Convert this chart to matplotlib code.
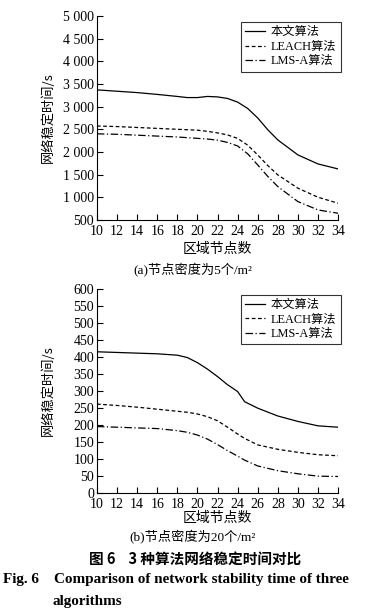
import matplotlib
matplotlib.use("Agg")
import matplotlib.pyplot as plt

plt.rcParams['font.family'] = ['Liberation Serif', 'Noto Sans CJK SC']

names = ["本文算法", "LEACH算法", "LMS-A算法"]
styles = ['-', (0, (3, 2)), (0, (6, 2, 1, 2))]

# (a) node density 5 per m2
xa = [10, 12, 14, 16, 18, 19, 20, 21, 22, 23, 24, 25, 26, 27, 28, 30, 32, 34]
solid_a = [3370, 3340, 3310, 3270, 3225, 3200, 3200, 3225, 3215, 3180, 3100, 2960, 2750, 2490, 2265, 1934, 1735, 1625]
leach_a = [2573, 2560, 2540, 2520, 2500, 2490, 2480, 2455, 2420, 2375, 2300, 2150, 1934, 1700, 1493, 1200, 1000, 868]
lmsa_a = [2400, 2390, 2370, 2350, 2330, 2315, 2300, 2285, 2260, 2210, 2132, 1960, 1713, 1460, 1235, 904, 720, 647]

# (b) node density 20 per m2
xb = [10, 12, 14, 16, 18, 19, 20, 21, 22, 23, 24, 24.7, 26, 28, 30, 32, 34]
solid_b = [415, 413, 411, 409, 405, 398, 383, 364, 342, 318, 298, 268, 249, 226, 210, 197, 193]
leach_b = [261, 257, 252, 246, 240, 237, 232, 224, 212, 193, 173, 160, 141, 128, 119, 112, 109]
lmsa_b = [195, 193, 191, 189, 183, 178, 170, 158, 142, 124, 108, 96, 79, 65, 56, 49, 48]

xticks = list(range(10, 35, 2))

fig = plt.figure(figsize=(3.86, 6.16), dpi=100)
cjk = ['Noto Sans CJK SC', 'Liberation Serif']
mixed = ['Liberation Serif', 'Noto Sans CJK SC']


def panel(ax, x, series, ylim, yticks, ylabels, sub, sub_y, xlab_y):
    for ys, ls, nm in zip(series, styles, names):
        ax.plot(x, ys, color='black', lw=0.9, linestyle=ls, label=nm)
    ax.set_xlim(10, 34)
    ax.set_ylim(*ylim)
    ax.set_xticks(xticks)
    ax.set_yticks(yticks)
    ax.set_yticklabels(ylabels)
    ax.spines['top'].set_visible(False)
    ax.spines['right'].set_visible(False)
    ax.tick_params(direction='in', length=4, width=0.8, labelsize=10, pad=2)
    ax.tick_params(axis='x', pad=4)
    ax.set_ylabel("网络稳定时间/s", family=cjk, fontsize=9.5)
    ax.yaxis.set_label_coords(-0.175, 0.5)
    ax.set_xlabel("区域节点数", family=cjk, fontsize=10)
    ax.xaxis.set_label_coords(0.5, xlab_y)
    ax.xaxis.label.set_va('center')
    leg = ax.legend(loc='upper right', bbox_to_anchor=(1.01, 0.97), fancybox=False,
                    edgecolor='black', fontsize=8.8, handlelength=1.6,
                    borderpad=0.35, labelspacing=0.2, handletextpad=0.5,
                    borderaxespad=0.0)
    leg.get_frame().set_linewidth(0.8)
    for t in leg.get_texts():
        t.set_family(mixed)
    fig.text(0.5, sub_y, sub, ha='center', va='center', fontsize=9.5, family=mixed)


ax1 = fig.add_axes([0.251, 0.643, 0.625, 0.331])
panel(ax1, xa, [solid_a, leach_a, lmsa_a], (500, 5000),
      list(range(500, 5001, 500)),
      ["500", "1 000", "1 500", "2 000", "2 500", "3 000", "3 500", "4 000", "4 500", "5 000"],
      "(a)节点密度为5个/m²", 1 - 270 / 616, -0.142)

ax2 = fig.add_axes([0.251, 0.200, 0.625, 0.331])
panel(ax2, xb, [solid_b, leach_b, lmsa_b], (0, 600),
      list(range(0, 601, 50)),
      [str(v) for v in range(0, 601, 50)],
      "(b)节点密度为20个/m²", 1 - 537 / 616, -0.125)

fig.text(0.505, 1 - 559 / 616, "图 6    3 种算法网络稳定时间对比", ha='center', va='center',
         fontsize=10.5, fontweight='bold', family=cjk)
fig.text(0.008, 1 - 580 / 616, "Fig. 6    Comparison of network stability time of three",
         ha='left', va='center', fontsize=10.9, fontweight='bold', family='Liberation Serif')
fig.text(0.137, 1 - 602 / 616, "algorithms", ha='left', va='center',
         fontsize=10.9, fontweight='bold', family='Liberation Serif')

fig.savefig("out.png", dpi=100)
